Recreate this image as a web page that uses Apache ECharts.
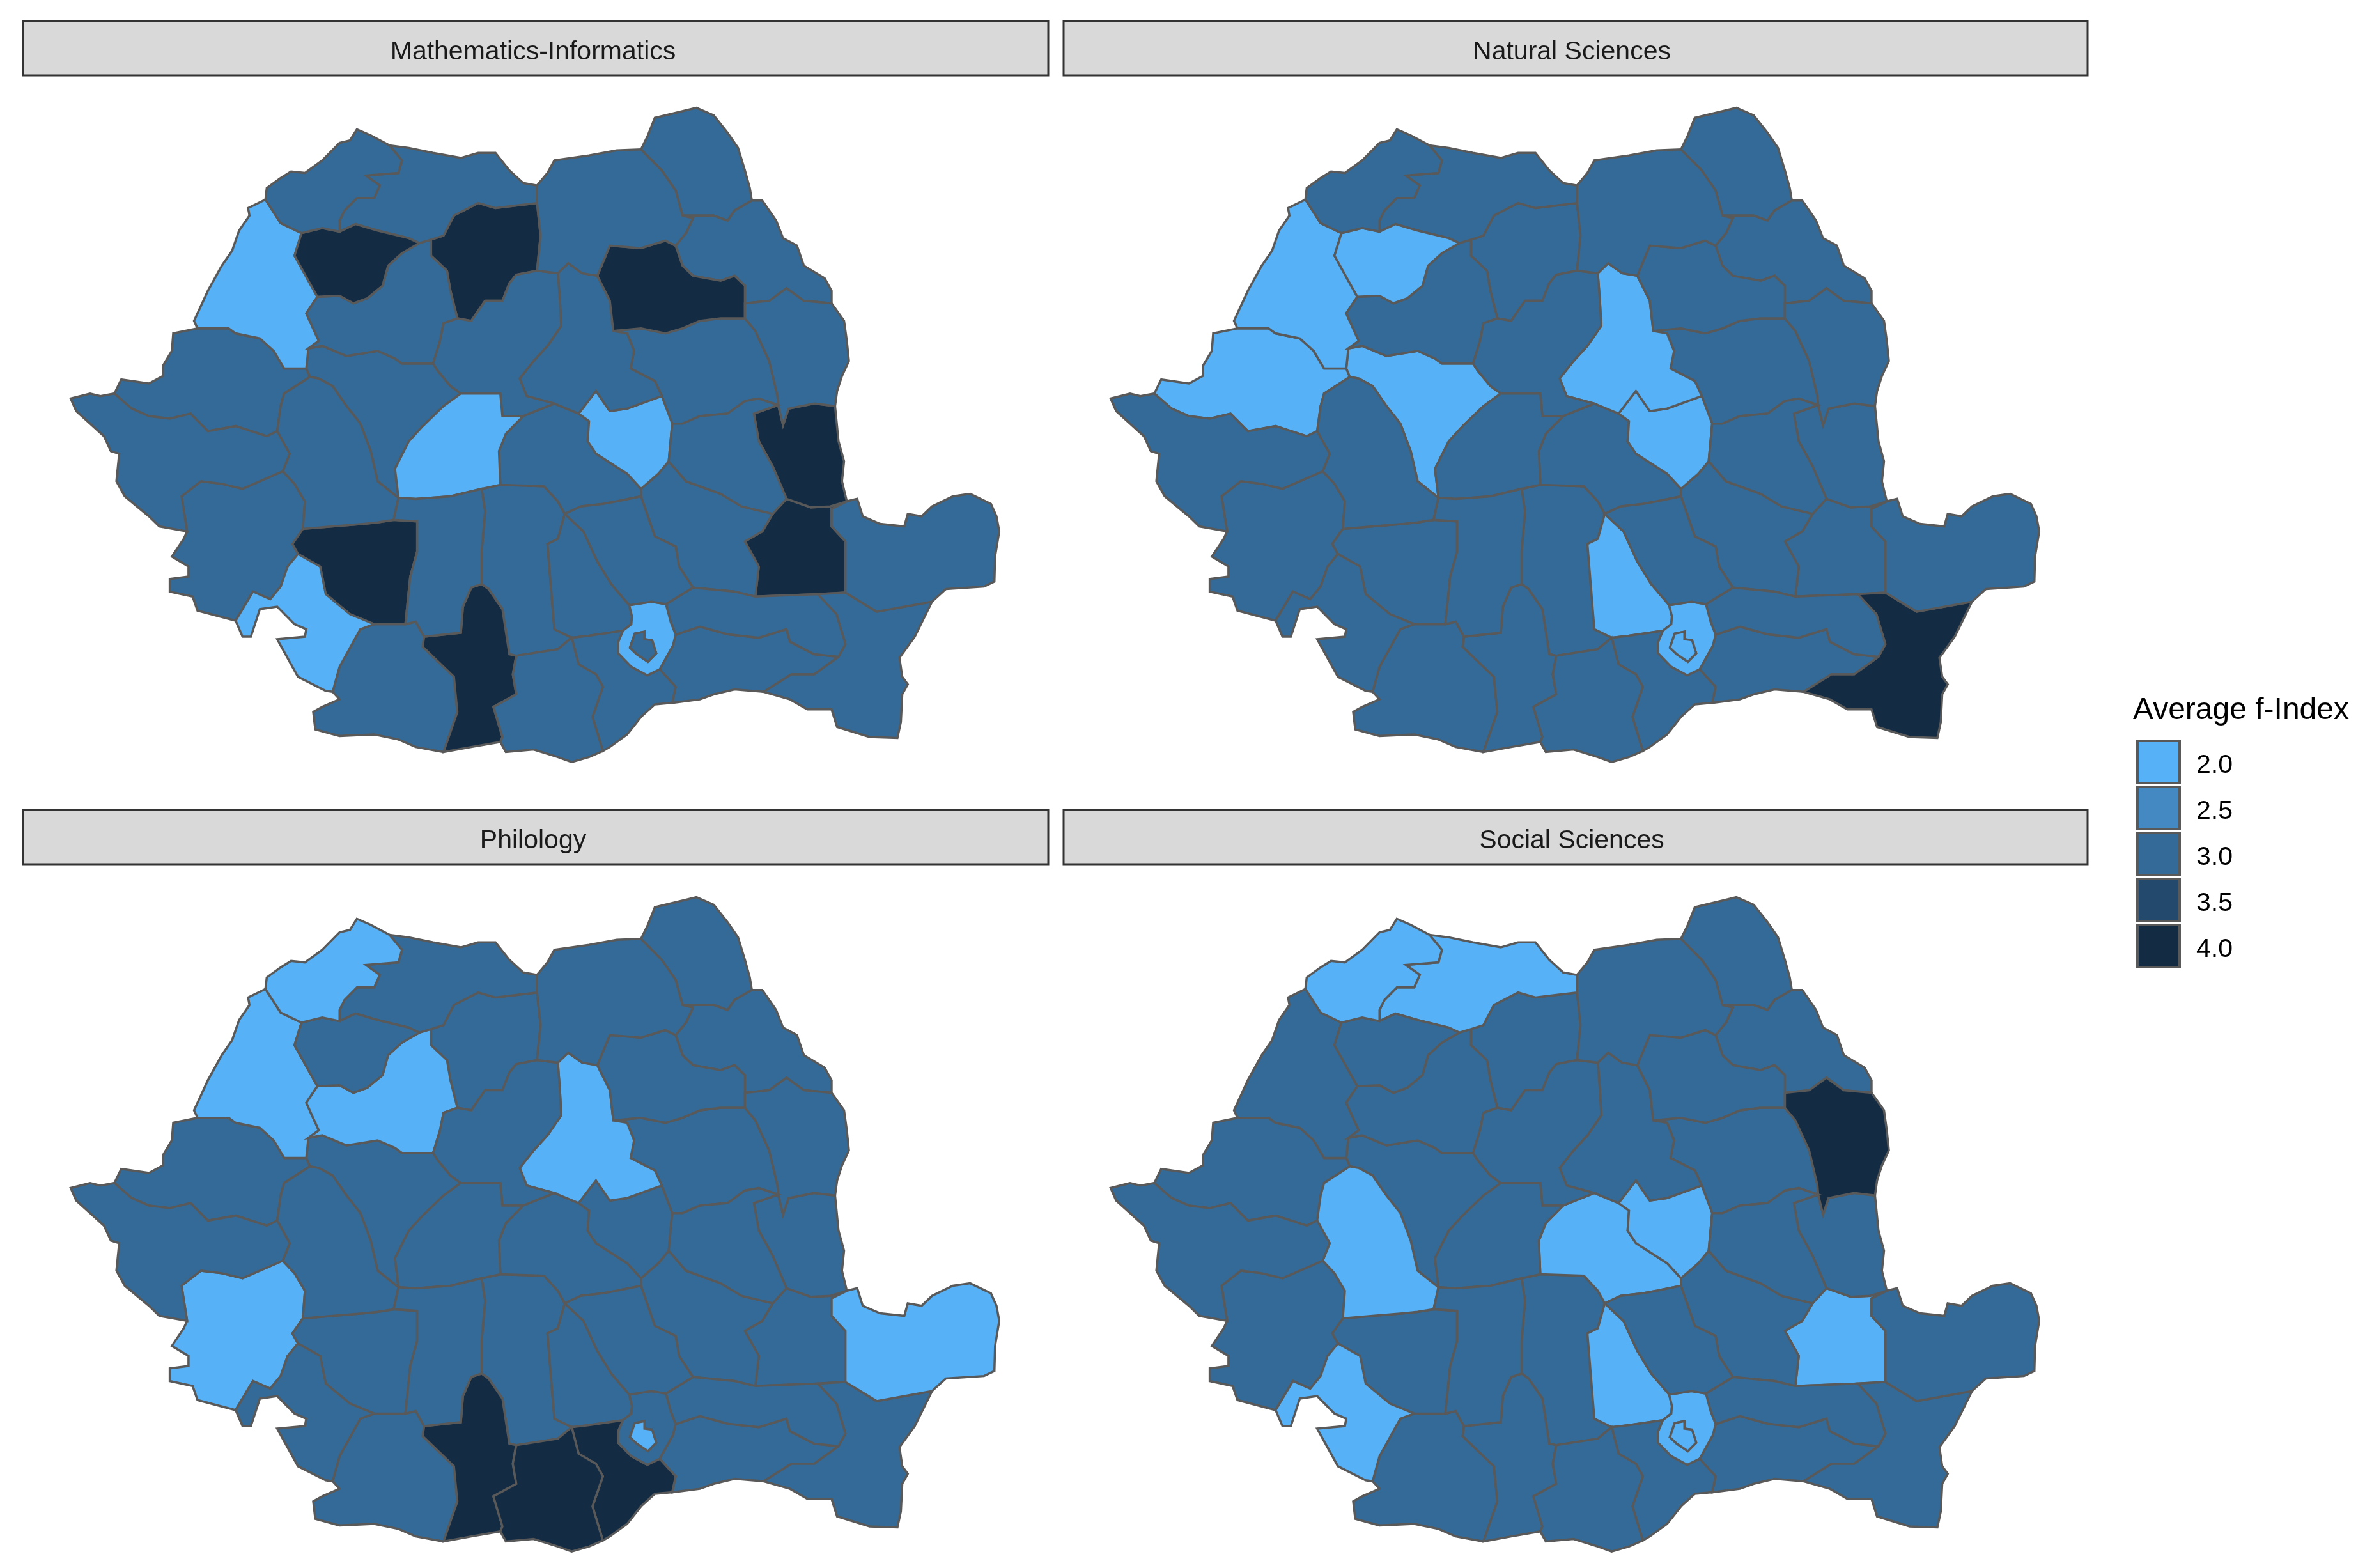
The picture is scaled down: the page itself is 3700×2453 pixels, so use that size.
<!DOCTYPE html>
<html>
<head>
<meta charset="utf-8">
<style>html,body{margin:0;background:#fff}#main{width:3700px;height:2453px}</style>
<script src="https://cdn.jsdelivr.net/npm/echarts@6/dist/echarts.min.js"></script>
</head>
<body>
<div id="main"></div>
<script>
// chart values, one array per panel, same order as counties
var panelNames = ['Mathematics-Informatics', 'Natural Sciences', 'Philology', 'Social Sciences'];
var legendValues = [2, 2.5, 3, 3.5, 4];
var legendLabels = ['2.0', '2.5', '3.0', '3.5', '4.0'];
var legendColors = ['#56B1F7', '#4589C2', '#336A98', '#23496C', '#132B43'];
var countyCodes = ['AB','AR','AG','BC','BH','BN','BT','BR','BV','BZ','CL','CS','CJ','CT','CV','DB','DJ','GL','GR','GJ','HR','HD','IL','IS','IF','MM','MH','MS','NT','OT','PH','SJ','SM','SB','SV','TR','TM','TL','VL','VS','VN','B'];
var countyNames = ['Alba','Arad','Arges','Bacau','Bihor','Bistrita-Nasaud','Botosani','Braila','Brasov','Buzau','Calarasi','Caras-Severin','Cluj','Constanta','Covasna','Dambovita','Dolj','Galati','Giurgiu','Gorj','Harghita','Hunedoara','Ialomita','Iasi','Ilfov','Maramures','Mehedinti','Mures','Neamt','Olt','Prahova','Salaj','Satu Mare','Sibiu','Suceava','Teleorman','Timis','Tulcea','Valcea','Vaslui','Vrancea','Bucuresti'];
var mathValues =      [3,3,3,3,2,4,3,4,3,3,3,3,3,3,2,3,3,4,3,4,3,3,3,3,2,3,2,3,4,4,3,4,3,2,3,3,3,3,3,3,3,3];
var naturalValues =   [2,2,3,3,2,3,3,3,3,3,3,3,3,4,2,2,3,3,3,3,2,3,3,3,2,3,3,3,3,3,3,2,3,3,3,3,3,3,3,3,3,2];
var philologyValues = [3,3,3,3,2,3,3,3,3,3,3,2,2,3,3,3,3,3,4,3,2,3,3,3,3,3,3,3,3,4,3,3,2,3,3,4,3,2,3,3,3,2];
var socialValues =    [3,3,3,3,3,3,3,2,2,3,3,3,3,3,2,2,3,3,3,3,3,2,3,3,2,2,2,3,3,3,3,3,2,3,3,3,3,3,3,4,3,2];
var panelValues = [mathValues, naturalValues, philologyValues, socialValues];

// county borders, key = the counties on each side
var borderArcs = {
  'SM': [[383,398],[385,375],[405,355],[420,342],[440,345],[465,320],[490,285],[505,280],[515,258],[535,270],[562,290]],
  'MM': [[562,290],[590,295],[625,305],[665,315],[690,305],[715,305],[735,340],[755,365],[775,370]],
  'SV': [[775,370],[790,345],[800,320],[850,310],[890,300],[925,298]],
  'BT': [[925,298],[935,270],[945,235],[975,225],[1005,215],[1030,230],[1050,265],[1065,295],[1075,340],[1082,375],[1085,400]],
  'IS': [[1085,400],[1100,400],[1120,440],[1130,475],[1150,490],[1160,530],[1190,555],[1200,580],[1200,605]],
  'VS': [[1200,605],[1218,640],[1222,680],[1225,720],[1215,750],[1208,780],[1205,810]],
  'GL': [[1205,810],[1210,880],[1218,920],[1215,960],[1222,1000]],
  'TL': [[1222,1000],[1237,995],[1245,1030],[1270,1045],[1305,1050],[1310,1025],[1330,1030],[1345,1010],[1375,990],[1400,985],[1430,1005],[1438,1030],[1442,1060],[1436,1110],[1435,1160],[1420,1170],[1365,1175],[1345,1200]],
  'CT': [[1345,1200],[1320,1270],[1298,1312],[1302,1350],[1310,1365],[1302,1385],[1300,1440],[1295,1472],[1255,1470],[1208,1450],[1200,1415],[1165,1415],[1140,1395],[1102,1380]],
  'CL': [[1102,1380],[1060,1375],[1030,1385],[1010,1395],[970,1402]],
  'GR': [[970,1402],[945,1405],[925,1430],[905,1465],[880,1490],[870,1498]],
  'TR': [[870,1498],[850,1510],[825,1520],[805,1510],[770,1495],[730,1500],[722,1480]],
  'OT': [[722,1480],[680,1490],[640,1500]],
  'DJ': [[640,1500],[600,1490],[575,1475],[540,1465],[490,1468],[455,1455],[452,1420],[465,1410],[490,1395],[480,1380]],
  'MH': [[480,1380],[470,1378],[430,1350],[410,1300],[400,1275],[440,1270],[442,1255],[425,1245],[400,1210],[375,1215],[362,1270],[350,1270],[340,1238]],
  'CS': [[340,1238],[285,1218],[278,1190],[245,1180],[245,1155],[272,1150],[272,1130],[248,1110],[265,1075],[270,1060]],
  'TM': [[270,1060],[230,1050],[215,1030],[180,990],[168,960],[172,905],[160,900],[150,870],[130,845],[110,820],[102,795],[130,785],[145,790],[165,785]],
  'AR': [[165,785],[175,757],[215,765],[235,750],[235,730],[248,700],[250,665],[285,655]],
  'BH': [[285,655],[280,640],[290,610],[300,580],[310,555],[320,530],[335,500],[345,460],[360,430],[358,415],[383,398]],
  'SM|BH': [[383,398],[405,445],[435,465]],
  'SM|SJ': [[435,465],[465,455],[490,462]],
  'SM|MM': [[490,462],[490,440],[497,420],[515,395],[540,395],[548,370],[528,350],[575,345],[580,320],[562,290]],
  'MM|SJ': [[490,462],[513,447],[545,460],[590,475],[605,485]],
  'MM|CJ': [[605,485],[622,478]],
  'MM|BN': [[622,478],[640,470],[655,430],[690,405],[715,415],[745,410],[775,405]],
  'MM|SV': [[775,370],[775,405]],
  'BH|SJ': [[435,465],[425,510],[445,560],[458,592]],
  'SJ|CJ': [[458,592],[490,590],[510,605],[530,595],[552,570],[560,530],[580,505],[605,485]],
  'BH|CJ': [[458,592],[442,625],[460,680],[445,695]],
  'BH|AB': [[445,695],[442,735]],
  'BH|AR': [[285,655],[330,655],[340,665],[375,675],[395,700],[410,735],[442,735]],
  'AR|AB': [[442,735],[447,752]],
  'AR|HD': [[447,752],[410,785],[405,810],[400,860]],
  'AR|TM': [[165,785],[190,815],[215,830],[245,835],[275,825],[300,860],[340,850],[385,870],[400,860]],
  'TM|HD': [[400,860],[418,905],[408,940]],
  'TM|CS': [[270,1060],[262,990],[290,960],[320,965],[350,975],[408,940]],
  'HD|CS': [[408,940],[425,965],[440,1000],[437,1055]],
  'HD|GJ': [[437,1055],[480,1050],[525,1045],[545,1042],[568,1037]],
  'HD|VL': [[575,993],[568,1037]],
  'AB|HD': [[447,752],[460,755],[480,770],[500,810],[520,845],[535,900],[545,960],[575,993]],
  'CS|GJ': [[437,1055],[422,1085],[430,1105]],
  'CS|MH': [[430,1105],[415,1130],[405,1170],[390,1195],[365,1180],[340,1238]],
  'GJ|MH': [[430,1105],[462,1130],[470,1185],[505,1225],[540,1245]],
  'MH|DJ': [[540,1245],[520,1255],[510,1280],[490,1330],[480,1380]],
  'GJ|DJ': [[540,1245],[585,1245]],
  'GJ|VL': [[568,1037],[602,1040],[602,1100],[592,1150],[585,1245]],
  'VL|DJ': [[585,1245],[600,1240],[612,1270]],
  'DJ|OT': [[612,1270],[610,1290],[655,1350],[660,1420],[640,1500]],
  'VL|OT': [[612,1270],[665,1262],[668,1210],[680,1172],[695,1165]],
  'VL|AG': [[695,975],[700,1020],[695,1100],[695,1165]],
  'SB|VL': [[575,993],[600,995],[650,990],[695,975]],
  'SB|AG': [[695,975],[722,967]],
  'OT|AG': [[695,1165],[705,1175],[725,1215],[735,1305],[745,1308]],
  'OT|TR': [[745,1308],[740,1345],[745,1385],[712,1410],[725,1470],[722,1480]],
  'AG|TR': [[745,1308],[805,1295],[825,1272]],
  'AG|DB': [[815,1025],[805,1075],[790,1085],[795,1170],[800,1255],[825,1272]],
  'BV|AG': [[722,967],[785,970],[805,1000],[815,1025]],
  'TR|GR': [[825,1272],[835,1325],[860,1345],[870,1370],[855,1430],[870,1498]],
  'DB|GR': [[825,1272],[850,1268],[899,1258]],
  'DB|IF': [[908,1207],[912,1230],[911,1245],[899,1258]],
  'DB|PH': [[815,1025],[842,1060],[862,1120],[882,1165],[908,1207]],
  'GR|IF': [[899,1258],[892,1281],[892,1303],[911,1330],[934,1347],[952,1335]],
  'GR|CL': [[952,1335],[975,1370],[970,1402]],
  'PH|IF': [[908,1207],[940,1200],[961,1205]],
  'IF|IL': [[961,1205],[968,1241],[975,1266]],
  'IF|CL': [[975,1266],[971,1288],[952,1335]],
  'IF|B': [[930,1260],[916,1264],[909,1292],[919,1305],[935,1320],[947,1303],[941,1277],[930,1275],[930,1260]],
  'PH|IL': [[961,1205],[1000,1172]],
  'PH|BZ': [[925,990],[935,1030],[945,1070],[975,1090],[980,1130],[1000,1172]],
  'BV|PH': [[925,990],[890,1000],[870,1005],[838,1010],[815,1025]],
  'BV|BZ': [[925,975],[925,990]],
  'CV|BZ': [[965,920],[950,945],[925,975]],
  'CV|BV': [[925,975],[905,945],[860,905],[848,880],[850,840],[835,825]],
  'CV|VN': [[970,845],[965,920]],
  'BC|CV': [[955,790],[970,845]],
  'HR|CV': [[835,825],[860,780],[880,820],[905,815],[955,790]],
  'HR|BV': [[800,805],[835,825]],
  'MS|BV': [[755,830],[800,805]],
  'BV|SB': [[755,830],[730,865],[720,900],[722,967]],
  'MS|SB': [[665,785],[722,785],[725,830],[755,830]],
  'SB|AB': [[665,785],[640,810],[610,850],[590,880],[570,935],[575,993]],
  'MS|AB': [[625,725],[632,740],[650,770],[665,785]],
  'CJ|AB': [[445,695],[465,690],[500,710],[545,700],[570,715],[580,725],[625,725]],
  'CJ|MS': [[660,635],[640,645],[635,680],[625,725]],
  'CJ|BN': [[622,478],[622,510],[645,540],[650,580],[660,635]],
  'BN|MS': [[660,635],[680,640],[700,600],[725,600],[735,565],[745,548],[775,540]],
  'BN|SV': [[775,405],[780,470],[775,540]],
  'SV|MS': [[775,540],[805,545]],
  'SV|HR': [[805,545],[820,525],[840,545],[862,550]],
  'HR|MS': [[805,545],[808,600],[810,650],[790,690],[770,720],[750,755],[760,790],[800,805]],
  'NT|HR': [[862,550],[880,600],[885,660]],
  'BC|HR': [[885,660],[905,665],[915,700],[910,735],[945,760],[955,790]],
  'SV|NT': [[862,550],[880,490],[925,495],[960,480],[975,490]],
  'SV|IS': [[985,430],[1000,435],[990,465],[975,490]],
  'SV|BT': [[925,298],[955,340],[975,380],[985,430]],
  'BT|IS': [[985,430],[1030,430],[1050,440],[1060,420],[1085,400]],
  'IS|NT': [[975,490],[985,530],[1000,550],[1040,560],[1060,550],[1075,570],[1075,605]],
  'IS|VS': [[1075,605],[1110,600],[1135,575],[1160,600],[1200,605]],
  'NT|VS': [[1075,605],[1075,635]],
  'NT|BC': [[885,660],[925,655],[960,665],[985,655],[1010,640],[1040,635],[1075,635]],
  'VS|BC': [[1075,635],[1090,660],[1110,720],[1122,790],[1123,808]],
  'VS|GL': [[1123,808],[1130,848],[1138,815],[1175,805],[1205,810]],
  'BC|VN': [[970,845],[985,845],[1010,830],[1050,825],[1075,800],[1095,795],[1123,808]],
  'VN|GL': [[1123,808],[1088,825],[1095,880],[1115,930],[1135,995]],
  'VN|BR': [[1115,1025],[1135,995]],
  'BZ|VN': [[965,920],[990,960],[1040,985],[1070,1010],[1115,1025]],
  'BZ|BR': [[1115,1025],[1100,1060],[1075,1080],[1095,1130],[1090,1190]],
  'IL|BZ': [[1000,1172],[1060,1180],[1090,1190]],
  'IL|BR': [[1090,1190],[1180,1185]],
  'IL|CT': [[1180,1185],[1207,1225],[1220,1285],[1210,1310]],
  'IL|CL': [[975,1266],[1010,1250],[1050,1265],[1095,1272],[1135,1255],[1140,1280],[1175,1305],[1210,1310]],
  'CL|CT': [[1210,1310],[1175,1345],[1142,1345],[1102,1380]],
  'GL|BR': [[1135,995],[1170,1012],[1198,1010],[1222,1000]],
  'BR|TL': [[1222,1000],[1200,1015],[1200,1050],[1220,1080],[1220,1182]],
  'BR|CT': [[1180,1185],[1220,1182]],
  'TL|CT': [[1220,1182],[1265,1220],[1345,1200]]
};

// traced in a crop stretched 0.9224 / 1.275, back to page pixels
var scaleX = 0.9224, scaleY = 1.275;

function sameNode(a, b) {
  return a[0] === b[0] && a[1] === b[1];
}

// join the arcs of one county into a closed ring
function buildRing(code) {
  var left = [];
  Object.keys(borderArcs).forEach(function (key) {
    if (key.split('|').indexOf(code) >= 0) left.push(borderArcs[key]);
  });
  var closed = left.filter(function (a) { return sameNode(a[0], a[a.length - 1]); });
  if (code === 'B') return closed[0];
  left = left.filter(function (a) { return closed.indexOf(a) < 0; });
  var ring = left.shift().slice();
  while (left.length) {
    var end = ring[ring.length - 1], found = false;
    for (var i = 0; i < left.length; i++) {
      var arc = left[i];
      if (sameNode(arc[0], end)) { ring = ring.concat(arc.slice(1)); found = true; }
      else if (sameNode(arc[arc.length - 1], end)) { ring = ring.concat(arc.slice().reverse().slice(1)); found = true; }
      if (found) { left.splice(i, 1); break; }
    }
    if (!found) { console.error('open ring ' + code); break; }
  }
  return ring;
}

var minX = 1e9, maxX = -1e9, minY = 1e9, maxY = -1e9;
function toMap(p) {
  var x = p[0] / scaleX, y = p[1] / scaleY;
  minX = Math.min(minX, x); maxX = Math.max(maxX, x);
  minY = Math.min(minY, y); maxY = Math.max(maxY, y);
  return [x, -y];
}

var features = countyCodes.map(function (code, i) {
  var rings = [buildRing(code).map(toMap)];
  if (code === 'IF') rings.push(borderArcs['IF|B'].map(toMap));
  return {
    type: 'Feature',
    properties: { name: countyNames[i] },
    geometry: { type: 'Polygon', coordinates: rings }
  };
});
// map series on one map name get merged, so each panel registers its own
panelNames.forEach(function (name, i) {
  echarts.registerMap('romania' + i, { type: 'FeatureCollection', features: features });
});

var myChart = echarts.init(document.getElementById('main'));

var panelDx = [0, 1627, 0, 1627];
var panelDy = [0, 0, 1235, 1235];
var stripLeft = [36, 1664, 36, 1664];
var stripWidth = [1604, 1602, 1604, 1602];
var stripTop = 33, stripHeight = 85, stripDy = 1234;
var labelDx = [-4, -6, -4, -6];

var graphics = [], titles = [], series = [];
panelNames.forEach(function (name, i) {
  var sy = stripTop + (i > 1 ? stripDy : 0);
  graphics.push({
    type: 'rect', z: 1, silent: true,
    shape: { x: stripLeft[i], y: sy, width: stripWidth[i], height: stripHeight },
    style: { fill: '#D9D9D9', stroke: '#333333', lineWidth: 3 }
  });
  titles.push({
    text: name,
    left: stripLeft[i] + stripWidth[i] / 2 + labelDx[i],
    top: sy + stripHeight / 2 + 6,
    textAlign: 'center',
    textVerticalAlign: 'middle',
    padding: 0,
    textStyle: { fontFamily: 'Liberation Sans', fontSize: 41, fontWeight: 'normal', color: '#1A1A1A' }
  });
  series.push({
    type: 'map',
    map: 'romania' + i,
    aspectScale: 1,
    left: minX + panelDx[i],
    top: minY + panelDy[i],
    width: maxX - minX,
    height: maxY - minY,
    silent: true,
    selectedMode: false,
    label: { show: false },
    itemStyle: { borderColor: '#595959', borderWidth: 3.5 },
    data: countyNames.map(function (n, k) {
      return { name: n, value: panelValues[i][k] };
    })
  });
});

titles.push({
  text: 'Average f-Index',
  left: 3337,
  top: 1112,
  textVerticalAlign: 'middle',
  padding: 0,
  textStyle: { fontFamily: 'Liberation Sans', fontSize: 48, fontWeight: 'normal', color: '#000000' }
});

// legend keys and labels
legendValues.forEach(function (v, i) {
  graphics.push({
    type: 'rect', z: 10, silent: true,
    shape: { x: 3344, y: 1159 + i * 72, width: 66, height: 66 },
    style: { fill: legendColors[i], stroke: '#595959', lineWidth: 4 }
  });
  graphics.push({
    type: 'text', z: 10, silent: true,
    x: 3436, y: 1198 + i * 72,
    style: { text: legendLabels[i], fontFamily: 'Liberation Sans', fontSize: 41, fill: '#000000', verticalAlign: 'middle' }
  });
});

var option = {
  animation: false,
  backgroundColor: '#ffffff',
  title: titles,
  graphic: graphics,
  visualMap: {
    type: 'piecewise',
    show: false,
    seriesIndex: [0, 1, 2, 3],
    pieces: legendValues.map(function (v, i) {
      return { value: v, label: legendLabels[i], color: legendColors[i] };
    })
  },
  series: series
};

myChart.setOption(option);
</script>
</body>
</html>
